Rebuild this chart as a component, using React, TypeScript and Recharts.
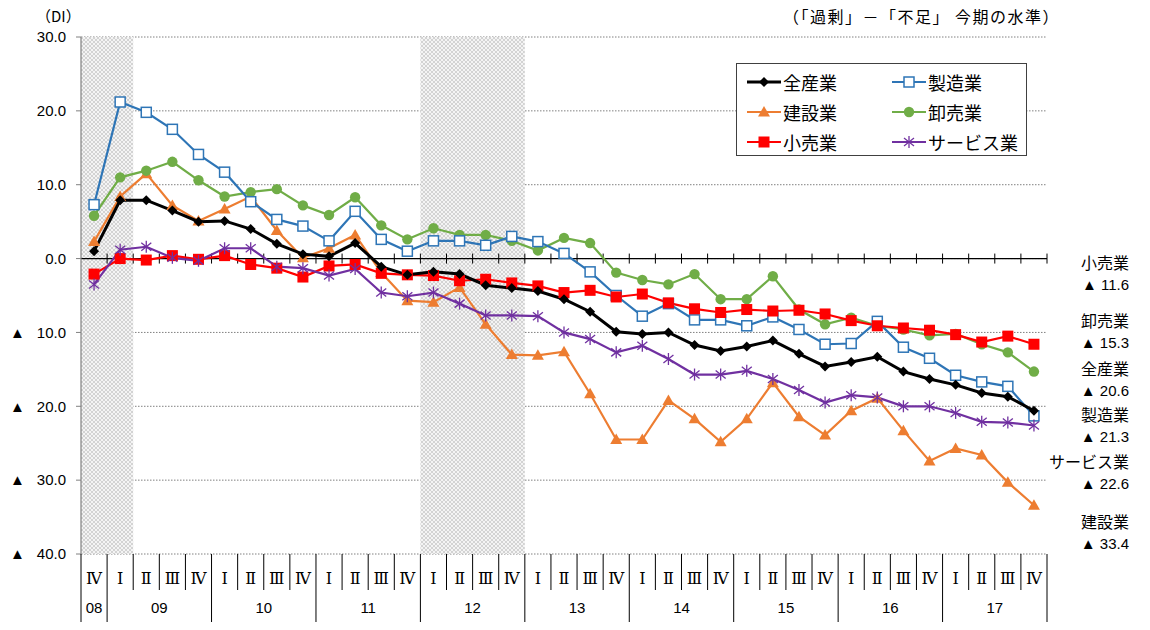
import React from 'react';
import { ComposedChart, Line, XAxis, YAxis, CartesianGrid, ReferenceArea, ReferenceLine, Legend } from 'recharts';

// 四半期（年2桁 + 期）
const CATEGORIES = [
  '08Ⅳ',
  '09Ⅰ', '09Ⅱ', '09Ⅲ', '09Ⅳ',
  '10Ⅰ', '10Ⅱ', '10Ⅲ', '10Ⅳ',
  '11Ⅰ', '11Ⅱ', '11Ⅲ', '11Ⅳ',
  '12Ⅰ', '12Ⅱ', '12Ⅲ', '12Ⅳ',
  '13Ⅰ', '13Ⅱ', '13Ⅲ', '13Ⅳ',
  '14Ⅰ', '14Ⅱ', '14Ⅲ', '14Ⅳ',
  '15Ⅰ', '15Ⅱ', '15Ⅲ', '15Ⅳ',
  '16Ⅰ', '16Ⅱ', '16Ⅲ', '16Ⅳ',
  '17Ⅰ', '17Ⅱ', '17Ⅲ', '17Ⅳ',
];

const ZENSANGYO = [1.0, 7.9, 7.9, 6.5, 5.0, 5.1, 4.0, 2.0, 0.6, 0.3, 2.1, -1.1, -2.2, -1.8, -2.1, -3.6, -4.0, -4.4, -5.5, -7.2, -9.9, -10.2, -10.0, -11.7, -12.5, -11.9, -11.1, -12.9, -14.6, -14.0, -13.3, -15.3, -16.3, -17.1, -18.2, -18.7, -20.6];
const SEIZOGYO = [7.3, 21.2, 19.8, 17.5, 14.1, 11.7, 7.7, 5.3, 4.4, 2.4, 6.4, 2.6, 1.0, 2.4, 2.4, 1.8, 3.0, 2.3, 0.7, -1.8, -5.0, -7.8, -6.1, -8.3, -8.3, -9.1, -7.9, -9.6, -11.6, -11.5, -8.5, -12.0, -13.5, -15.8, -16.7, -17.3, -21.3];
const KENSETSUGYO = [2.3, 8.4, 11.5, 7.2, 5.1, 6.7, 8.4, 3.8, 0.1, 1.4, 3.2, -1.9, -5.7, -5.9, -3.9, -8.9, -13.0, -13.1, -12.6, -18.3, -24.5, -24.5, -19.2, -21.7, -24.8, -21.7, -16.8, -21.4, -23.9, -20.6, -18.9, -23.3, -27.4, -25.7, -26.6, -30.3, -33.4];
const OROSHIURIGYO = [5.8, 11.0, 11.9, 13.1, 10.6, 8.4, 9.0, 9.4, 7.2, 5.9, 8.3, 4.5, 2.6, 4.1, 3.2, 3.2, 2.4, 1.1, 2.8, 2.1, -1.9, -2.9, -3.5, -2.1, -5.5, -5.5, -2.4, -6.9, -8.9, -8.0, -9.1, -9.6, -10.4, -10.2, -11.6, -12.7, -15.3];
const KOURIGYO = [-2.1, 0.0, -0.2, 0.4, -0.1, 0.4, -0.8, -1.3, -2.5, -1.0, -0.8, -2.0, -2.2, -2.3, -3.0, -2.8, -3.3, -3.7, -4.6, -4.3, -5.2, -4.8, -6.0, -6.8, -7.3, -6.9, -7.1, -7.0, -7.5, -8.4, -9.1, -9.4, -9.7, -10.3, -11.3, -10.5, -11.6];
const SERVICEGYO = [-3.5, 1.2, 1.6, 0.1, -0.3, 1.4, 1.4, -1.1, -1.3, -2.3, -1.4, -4.6, -5.1, -4.6, -6.1, -7.7, -7.7, -7.8, -10.0, -10.9, -12.7, -11.8, -13.6, -15.7, -15.7, -15.2, -16.3, -17.8, -19.5, -18.5, -18.8, -20.0, -20.0, -20.9, -22.1, -22.2, -22.6];

const Y_TICKS = [30, 20, 10, 0, -10, -20, -30, -40];

// 網掛け期間（景気後退局面）
const SHADED = [
  ['08Ⅳ', '09Ⅰ'],
  ['12Ⅰ', '12Ⅳ'],
];

const SERIES = [
  { key: 'zen', name: '全産業', values: ZENSANGYO, color: '#000000', marker: 'diamond', width: 3 },
  { key: 'seizo', name: '製造業', values: SEIZOGYO, color: '#2E75B6', marker: 'openSquare', width: 2.2 },
  { key: 'kensetsu', name: '建設業', values: KENSETSUGYO, color: '#ED7D31', marker: 'triangle', width: 2.2 },
  { key: 'oroshi', name: '卸売業', values: OROSHIURIGYO, color: '#70AD47', marker: 'circle', width: 2.2 },
  { key: 'kouri', name: '小売業', values: KOURIGYO, color: '#FF0000', marker: 'square', width: 2.2 },
  { key: 'service', name: 'サービス業', values: SERVICEGYO, color: '#7030A0', marker: 'star', width: 2.2 },
];

// 描画順（後ろほど前面）
const DRAW_ORDER = ['kensetsu', 'oroshi', 'seizo', 'kouri', 'service', 'zen'];

// 右側の注記（今期の値）
const END_LABELS = ['kouri', 'oroshi', 'zen', 'seizo', 'service', 'kensetsu'];
const END_LABEL_TOPS = [251, 309, 357, 403, 450, 510];

const data = CATEGORIES.map((c, i) => {
  const row: any = { cat: c };
  SERIES.forEach((s) => { row[s.key] = s.values[i]; });
  return row;
});

const W = 1150;
const H = 630;
const MARGIN = { top: 37, right: 103, left: 0, bottom: 0 };
const Y_AXIS_W = 81;
const X_AXIS_H = 76;
const BAND = (W - MARGIN.right - Y_AXIS_W) / CATEGORIES.length;

const FONT = '"Liberation Sans", "Noto Sans CJK JP", sans-serif';
const JP_FONT = '"Noto Sans CJK JP", "Liberation Sans", sans-serif';

function Marker({ type, color, cx, cy }: { type: string; color: string; cx: number; cy: number }) {
  switch (type) {
    case 'diamond':
      return <polygon points={`${cx},${cy - 5} ${cx + 5},${cy} ${cx},${cy + 5} ${cx - 5},${cy}`} fill={color} />;
    case 'openSquare':
      return <rect x={cx - 5} y={cy - 5} width={10} height={10} fill="#fff" stroke={color} strokeWidth={1.5} />;
    case 'triangle':
      return <polygon points={`${cx},${cy - 6} ${cx + 6},${cy + 4.5} ${cx - 6},${cy + 4.5}`} fill={color} />;
    case 'circle':
      return <circle cx={cx} cy={cy} r={5.2} fill={color} />;
    case 'square':
      return <rect x={cx - 5.5} y={cy - 5.5} width={11} height={11} fill={color} />;
    case 'star':
      return (
        <g stroke={color} strokeWidth={1.3}>
          <line x1={cx} y1={cy - 6} x2={cx} y2={cy + 6} />
          <line x1={cx - 5} y1={cy - 4} x2={cx + 5} y2={cy + 4} />
          <line x1={cx - 5} y1={cy + 4} x2={cx + 5} y2={cy - 4} />
        </g>
      );
    default:
      return null;
  }
}

const YTick = (props: any) => {
  const { x, y, payload } = props;
  const v: number = payload.value;
  return (
    <g fontFamily={FONT} fontSize={15} fill="#000">
      {v < 0 && (
        <text x={10} y={y} dy="0.35em" textAnchor="start" fill="#000">▲</text>
      )}
      <text x={x} y={y} dy="0.35em" textAnchor="end" fill="#000">{Math.abs(v).toFixed(1)}</text>
    </g>
  );
};

const XTick = (props: any) => {
  const { x, y, payload } = props;
  const cat: string = payload.value;
  const i = CATEGORIES.indexOf(cat);
  const yr = cat.slice(0, 2);
  const q = cat.slice(2);
  const left = x - BAND / 2;
  const yearStart = i === 0 || q === 'Ⅰ';
  const last = i === CATEGORIES.length - 1;
  return (
    <g>
      <line x1={left} x2={left} y1={y} y2={y + (yearStart ? 68 : 36)} stroke="#000" strokeWidth={1} />
      {last && <line x1={x + BAND / 2} x2={x + BAND / 2} y1={y} y2={y + 68} stroke="#000" strokeWidth={1} />}
      <text x={x} y={y + 24} dy="0.35em" textAnchor="middle" fontSize={16}
        fontFamily='"DejaVu Serif", "Liberation Serif", serif' fill="#000">{q}</text>
      {(i === 0 || q === 'Ⅲ') && (
        <text x={i === 0 ? x : left} y={y + 54} dy="0.35em" textAnchor="middle" fontSize={15}
          fontFamily={FONT} fill="#000">{yr}</text>
      )}
    </g>
  );
};

// ゼロ線と目盛り
const ZeroLine = (props: any) => {
  const { x1, x2, y1 } = props;
  const n = CATEGORIES.length;
  const step = (x2 - x1) / n;
  return (
    <g>
      <line x1={x1} x2={x2} y1={y1} y2={y1} stroke="#000" strokeWidth={1.3} />
      {CATEGORIES.map((_, k) => (
        <line key={k} x1={x1 + step * (k + 1)} x2={x1 + step * (k + 1)} y1={y1 - 5} y2={y1 + 5} stroke="#000" strokeWidth={1} />
      ))}
    </g>
  );
};

const LegendBox = () => (
  <div style={{
    width: 291, height: 93, boxSizing: 'border-box', border: '1px solid #404040', background: '#fff',
    display: 'grid', gridTemplateColumns: '145px 145px', gridTemplateRows: '30px 30px 30px',
    padding: '3px 0 0 10px', fontFamily: JP_FONT, fontSize: 18, color: '#000',
  }}>
    {SERIES.map((s) => (
      <div key={s.key} style={{ display: 'flex', alignItems: 'center', height: 30 }}>
        <svg width={34} height={16} style={{ marginRight: 2 }}>
          <line x1={0} x2={34} y1={8} y2={8} stroke={s.color} strokeWidth={s.width} />
          <Marker type={s.marker} color={s.color} cx={17} cy={8} />
        </svg>
        <span style={{ lineHeight: '30px' }}>{s.name}</span>
      </div>
    ))}
  </div>
);

export default function App() {
  return (
    <div style={{ position: 'absolute', left: 0, top: 0, width: W, height: H, background: '#fff' }}>
      <ComposedChart width={W} height={H} data={data} margin={MARGIN}>
        <defs>
          <pattern id="hatch" width="4" height="4" patternUnits="userSpaceOnUse">
            <rect width="4" height="4" fill="#f4f4f4" />
            <path d="M0,0 L4,4 M4,0 L0,4" stroke="#cfcfcf" strokeWidth="0.9" />
          </pattern>
        </defs>
        <CartesianGrid vertical={false} stroke="#808080" strokeDasharray="1.5 1.5" />
        <XAxis dataKey="cat" scale="band" interval={0} height={X_AXIS_H} axisLine={false} tickLine={false}
          tickSize={0} tickMargin={0} tick={<XTick />} />
        <YAxis domain={[-40, 30]} ticks={Y_TICKS} width={Y_AXIS_W} allowDataOverflow
          axisLine={{ stroke: '#808080', strokeWidth: 1.2 }} tickLine={{ stroke: '#808080' }}
          tickSize={5} tickMargin={10} tick={<YTick />} />
        {SHADED.map(([a, b]) => (
          <ReferenceArea key={a} x1={a} x2={b} y1={-40} y2={30} fill="url(#hatch)" fillOpacity={1} stroke="none" />
        ))}
        <ReferenceLine y={0} shape={<ZeroLine />} />
        {DRAW_ORDER.map((k) => {
          const s = SERIES.find((x) => x.key === k)!;
          return (
            <Line key={s.key} dataKey={s.key} name={s.name} stroke={s.color} strokeWidth={s.width}
              isAnimationActive={false}
              dot={(p: any) => <Marker key={`${s.key}-${p.index}`} type={s.marker} color={s.color} cx={p.cx} cy={p.cy} />}
              activeDot={false} />
          );
        })}
        <Legend layout="horizontal" verticalAlign="middle" align="center"
          wrapperStyle={{ position: 'absolute', left: 736, top: 63, width: 291, height: 93 }}
          content={() => <LegendBox />} />
      </ComposedChart>

      <div style={{ position: 'absolute', left: 36, top: 5, fontFamily: JP_FONT, fontSize: 15 }}>（DI）</div>
      <div style={{ position: 'absolute', right: 1150 - 1060, top: 4, fontFamily: JP_FONT, fontSize: 16, letterSpacing: 1.5, whiteSpace: 'nowrap' }}>
        （「過剰」－「不足」 今期の水準）
      </div>

      {END_LABELS.map((k, i) => {
        const s = SERIES.find((x) => x.key === k)!;
        const last = s.values[s.values.length - 1];
        return (
          <div key={k} style={{ position: 'absolute', right: 1150 - 1129, top: END_LABEL_TOPS[i], textAlign: 'right', whiteSpace: 'nowrap' }}>
            <div style={{ fontFamily: JP_FONT, fontSize: 16, lineHeight: '22px' }}>{s.name}</div>
            <div style={{ fontFamily: FONT, fontSize: 15, lineHeight: '24px' }}>▲ {Math.abs(last).toFixed(1)}</div>
          </div>
        );
      })}
    </div>
  );
}
